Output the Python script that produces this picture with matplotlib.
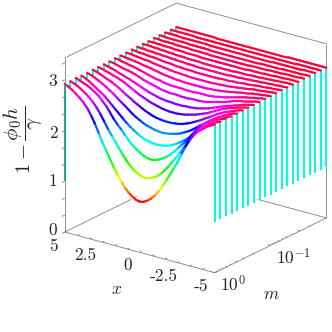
import numpy as np
import matplotlib
matplotlib.use('Agg')
import matplotlib.pyplot as plt
from mpl_toolkits.mplot3d.art3d import Line3DCollection, Poly3DCollection

plt.rcParams['mathtext.fontset'] = 'cm'
plt.rcParams['font.family'] = ['cmr10', 'DejaVu Sans']

# x samples from the centre out, the curves are mirrored around x=0
x_half = [0, 0.25, 0.5, 0.75, 1, 1.25, 1.5, 1.75, 2, 2.25, 2.5, 2.75, 3, 3.25, 3.5, 3.75, 4, 4.25, 4.5, 4.75, 5]
m_values = [1.0, 0.794, 0.631, 0.501, 0.398, 0.316, 0.251, 0.2, 0.158, 0.126, 0.1,
            0.0794, 0.0631, 0.0501, 0.0398, 0.0316, 0.0251, 0.02, 0.0158, 0.0126, 0.01]
z_curves = [
    [1.00, 1.015, 1.06, 1.12, 1.20, 1.30, 1.42, 1.55, 1.69, 1.83, 1.97, 2.14, 2.30, 2.44, 2.56, 2.65, 2.72, 2.78, 2.84, 2.88, 2.92],
    [1.41, 1.425, 1.46, 1.50, 1.57, 1.65, 1.75, 1.85, 1.96, 2.07, 2.18, 2.31, 2.43, 2.54, 2.63, 2.70, 2.76, 2.81, 2.86, 2.89, 2.92],
    [1.72, 1.73, 1.76, 1.80, 1.85, 1.91, 1.99, 2.07, 2.16, 2.24, 2.33, 2.44, 2.54, 2.62, 2.70, 2.75, 2.80, 2.84, 2.87, 2.90, 2.93],
    [1.96, 1.97, 1.98, 2.00, 2.03, 2.07, 2.12, 2.17, 2.23, 2.30, 2.37, 2.44, 2.51, 2.58, 2.65, 2.70, 2.75, 2.80, 2.85, 2.89, 2.92],
    [2.14, 2.15, 2.16, 2.18, 2.20, 2.23, 2.27, 2.31, 2.36, 2.42, 2.48, 2.53, 2.59, 2.65, 2.70, 2.75, 2.79, 2.83, 2.87, 2.90, 2.92],
    [2.30, 2.30, 2.31, 2.32, 2.34, 2.37, 2.40, 2.44, 2.48, 2.52, 2.57, 2.61, 2.66, 2.71, 2.75, 2.79, 2.82, 2.85, 2.88, 2.91, 2.93],
    [2.43, 2.43, 2.44, 2.45, 2.47, 2.49, 2.51, 2.54, 2.57, 2.60, 2.64, 2.68, 2.72, 2.76, 2.79, 2.82, 2.84, 2.87, 2.89, 2.91, 2.93],
    [2.53, 2.53, 2.54, 2.54, 2.55, 2.56, 2.58, 2.60, 2.62, 2.65, 2.68, 2.71, 2.74, 2.77, 2.79, 2.82, 2.84, 2.87, 2.89, 2.91, 2.93],
    [2.62, 2.62, 2.63, 2.63, 2.63, 2.64, 2.65, 2.67, 2.69, 2.71, 2.73, 2.75, 2.78, 2.81, 2.83, 2.85, 2.86, 2.88, 2.90, 2.92, 2.93],
    [2.69, 2.69, 2.70, 2.70, 2.70, 2.70, 2.71, 2.72, 2.74, 2.75, 2.77, 2.79, 2.81, 2.83, 2.85, 2.87, 2.88, 2.90, 2.91, 2.93, 2.94],
    [2.75, 2.75, 2.75, 2.75, 2.76, 2.76, 2.77, 2.78, 2.79, 2.80, 2.82, 2.83, 2.85, 2.86, 2.87, 2.89, 2.90, 2.91, 2.92, 2.93, 2.94],
    [2.80, 2.80, 2.80, 2.80, 2.81, 2.81, 2.82, 2.82, 2.83, 2.84, 2.85, 2.86, 2.87, 2.88, 2.90, 2.90, 2.91, 2.92, 2.93, 2.94, 2.94],
    [2.84, 2.84, 2.84, 2.84, 2.85, 2.85, 2.85, 2.86, 2.86, 2.87, 2.88, 2.88, 2.89, 2.90, 2.91, 2.91, 2.92, 2.93, 2.93, 2.94, 2.95],
    [2.87, 2.87, 2.87, 2.87, 2.87, 2.88, 2.88, 2.88, 2.89, 2.89, 2.90, 2.90, 2.91, 2.91, 2.92, 2.92, 2.93, 2.93, 2.94, 2.94, 2.95],
    [2.89, 2.89, 2.89, 2.89, 2.89, 2.90, 2.90, 2.90, 2.90, 2.91, 2.91, 2.91, 2.92, 2.92, 2.93, 2.93, 2.94, 2.94, 2.95, 2.95, 2.95],
    [2.91, 2.91, 2.91, 2.91, 2.91, 2.91, 2.91, 2.92, 2.92, 2.92, 2.92, 2.93, 2.93, 2.93, 2.94, 2.94, 2.94, 2.95, 2.95, 2.95, 2.95],
    [2.92, 2.92, 2.92, 2.92, 2.92, 2.92, 2.93, 2.93, 2.93, 2.93, 2.93, 2.94, 2.94, 2.94, 2.94, 2.95, 2.95, 2.95, 2.95, 2.96, 2.96],
    [2.93, 2.93, 2.93, 2.93, 2.93, 2.93, 2.93, 2.94, 2.94, 2.94, 2.94, 2.94, 2.94, 2.95, 2.95, 2.95, 2.95, 2.95, 2.95, 2.96, 2.96],
    [2.94, 2.94, 2.94, 2.94, 2.94, 2.94, 2.94, 2.94, 2.94, 2.95, 2.95, 2.95, 2.95, 2.95, 2.95, 2.95, 2.95, 2.96, 2.96, 2.96, 2.96],
    [2.95, 2.95, 2.95, 2.95, 2.95, 2.95, 2.95, 2.95, 2.95, 2.95, 2.95, 2.95, 2.95, 2.95, 2.96, 2.96, 2.96, 2.96, 2.96, 2.96, 2.96],
    [2.95, 2.95, 2.95, 2.95, 2.95, 2.95, 2.95, 2.95, 2.95, 2.95, 2.96, 2.96, 2.96, 2.96, 2.96, 2.96, 2.96, 2.96, 2.96, 2.96, 2.96],
]
z_floor = 1.0
m_major = [1, 0.1]
m_minor = [0.9, 0.8, 0.7, 0.6, 0.5, 0.4, 0.3, 0.2,
           0.09, 0.08, 0.07, 0.06, 0.05, 0.04, 0.03, 0.02]

XMIN, XMAX = -5, 5
YMIN, YMAX = -2, 0
ZMIN, ZMAX = 0, 3.43
GREY = '#808080'
TXT = '#262626'


def px(x, y):
    return x / 332, 1 - y / 332


def box_line(ax, a, b, z=1):
    ax.plot(*zip(a, b), color=GREY, lw=0.6, zorder=z, solid_capstyle='butt')


fig = plt.figure(figsize=(3.32, 3.32), dpi=100)
s = 300
ax = fig.add_axes([(191.5 - s / 2) / 332, (190 - s / 2) / 332, s / 332, s / 332],
                  projection='3d', proj_type='ortho', computed_zorder=False)
ax.set_xlim(XMIN, XMAX)
ax.set_ylim(YMIN, YMAX)
ax.set_zlim(ZMIN, ZMAX)
ax.set_box_aspect((1, 1, 1), zoom=1.048)
ax.view_init(elev=21.4, azim=126.6)
ax.set_axis_off()
ax.patch.set_alpha(0)

# box, only the edges the original draws
box_line(ax, (XMIN, YMAX, ZMIN), (XMAX, YMAX, ZMIN))
box_line(ax, (XMIN, YMAX, ZMIN), (XMIN, YMIN, ZMIN))
box_line(ax, (XMAX, YMAX, ZMIN), (XMAX, YMIN, ZMIN))
box_line(ax, (XMIN, YMIN, ZMIN), (XMAX, YMIN, ZMIN))
box_line(ax, (XMAX, YMAX, ZMIN), (XMAX, YMAX, ZMAX))
box_line(ax, (XMIN, YMIN, ZMIN), (XMIN, YMIN, ZMAX))
box_line(ax, (XMAX, YMAX, ZMAX), (XMAX, YMIN, ZMAX))
box_line(ax, (XMIN, YMIN, ZMAX), (XMAX, YMIN, ZMAX))

# ticks
for z in np.arange(0, 3.4, 1 / 3):
    box_line(ax, (XMAX, YMAX, z), (XMAX, YMAX + 0.05, z))
for x in np.arange(-5, 5.01, 2.5 / 3):
    box_line(ax, (x, YMAX, ZMIN), (x, YMAX - 0.04, ZMIN))
for m in m_major + m_minor:
    y = np.log10(m)
    box_line(ax, (XMIN, y, ZMIN), (XMIN + (0.2 if m in m_major else 0.12), y, ZMIN))

# one white backed curve per m, back to front, so front ones hide the rest
x_full = np.array([-v for v in x_half[:0:-1]] + x_half)
cmap = plt.get_cmap('hsv')
norm = plt.Normalize(1, 3)
order = 10
for m, half in reversed(list(zip(m_values, z_curves))):
    y = np.log10(m)
    z_full = np.array(half[:0:-1] + half)
    xs = np.r_[x_full[0], x_full, x_full[-1]]
    zs = np.r_[z_floor, z_full, z_floor]
    ys = np.full_like(xs, y, dtype=float)
    ax.add_collection3d(Poly3DCollection([list(zip(xs, ys, zs))], facecolors='white',
                                         edgecolors='none', zorder=order))
    for xe, ze in ((xs[0], zs[1]), (xs[-1], zs[-2])):
        ax.plot([xe, xe], [y, y], [z_floor, ze], color=cmap(norm((z_floor + ze) / 2)),
                lw=1.45, zorder=order + 1, solid_capstyle='butt')
    pts = np.column_stack([x_full, np.full_like(x_full, y, dtype=float), z_full])
    segs = np.stack([pts[:-1], pts[1:]], axis=1)
    lc = Line3DCollection(segs, colors=cmap(norm((z_full[:-1] + z_full[1:]) / 2)),
                          linewidths=1.6, capstyle='round', zorder=order + 2)
    ax.add_collection3d(lc)
    order += 3

# the grey edge shows through the first vertical on the left
ax.plot([XMAX, XMAX], [YMAX, YMAX], [z_floor, z_curves[0][-1]], color='#20a090', lw=1.3,
        zorder=order, solid_capstyle='butt')

# labels
for lab, (tx, ty) in zip(['0', '1', '2', '3'], [(53, 230), (53, 181), (53, 133), (53, 81)]):
    fig.text(*px(tx, ty), lab, fontsize=12.5, color=TXT, ha='center', va='center')
for lab, (tx, ty) in zip(['5', '2.5', '0', '-2.5', '-5'],
                         [(53, 246), (85, 255), (128, 265), (164, 276), (201, 286)]):
    fig.text(*px(tx, ty), lab, fontsize=12.5, color=TXT, ha='center', va='center')
fig.text(*px(233, 284), r'$10^{0}$', fontsize=12.5, color=TXT, ha='center', va='center')
fig.text(*px(293, 257), r'$10^{-1}$', fontsize=12.5, color=TXT, ha='center', va='center')
fig.text(*px(117, 289), r'$x$', fontsize=12.5, color=TXT, ha='center', va='center')
fig.text(*px(271, 294), r'$m$', fontsize=12.5, color=TXT, ha='center', va='center')
fig.text(*px(23.5, 140), r'$1-\dfrac{\phi_0 h}{\gamma}$', fontsize=15, color=TXT,
         rotation=90, ha='center', va='center')

fig.savefig('out.png', dpi=100)
